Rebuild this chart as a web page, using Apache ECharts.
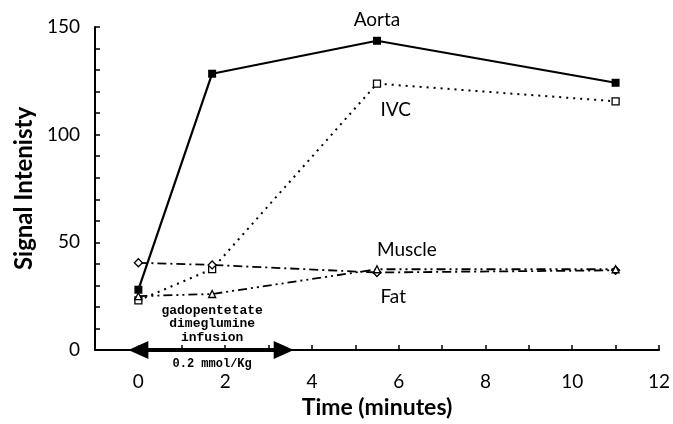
<!DOCTYPE html>
<html><head><meta charset="utf-8">
<script src="https://cdn.jsdelivr.net/npm/echarts@6/dist/echarts.min.js"></script>
<style>html,body{margin:0;padding:0;background:#fff}#c{width:673px;height:424px}</style>
</head><body><div id="c"></div>
<script>
const aortaX = [0, 1.7, 5.5, 11];
const aortaY = [28, 128.3, 143.6, 124.1];
const ivcX = [0, 1.7, 5.5, 11];
const ivcY = [23, 37.6, 123.7, 115.5];
const muscleX = [0, 1.7, 5.5, 11];
const muscleY = [40.5, 39.5, 36, 37];
const fatX = [0, 1.7, 5.5, 11];
const fatY = [25, 26, 37.5, 37.5];
const seriesNames = ['Aorta', 'IVC', 'Muscle', 'Fat'];
const infusionStart = 0, infusionEnd = 3.35;
const xTickLabels = ['0','2','4','6','8','10','12'];
const yTickLabels = ['0','50','100','150'];

const pairs = (xs, ys) => xs.map((x, i) => [x, ys[i]]);
const font = 'Lato, "Open Sans", sans-serif';
const mono = '"Liberation Mono", "DejaVu Sans Mono", monospace';
const hidden = {color: 'rgba(0,0,0,0)', borderWidth: 0};
const lbl = (coord, text, align, offset) => ({
  coord, symbol: 'circle', symbolSize: 1, itemStyle: hidden,
  label: {show: true, formatter: text, position: 'inside', align: align || 'left', offset: offset || [0, 0],
          verticalAlign: 'middle', color: '#000', fontSize: 19, fontFamily: font}
});
const chart = echarts.init(document.getElementById('c'), null, {renderer: 'canvas'});
chart.setOption({
  animation: false,
  backgroundColor: '#fff',
  grid: {left: 95, right: 11, top: 27, bottom: 74},
  xAxis: {
    type: 'value', min: -1, max: 12, interval: 1,
    name: 'Time (minutes)', nameLocation: 'middle', nameGap: 42,
    nameTextStyle: {fontSize: 23, fontWeight: 'bold', color: '#000', fontFamily: font},
    axisLine: {onZero: false, lineStyle: {color: '#000', width: 2}},
    axisTick: {inside: true, length: 5, lineStyle: {color: '#000', width: 1.5}},
    axisLabel: {margin: 22, fontSize: 19, color: '#000', fontFamily: font,
      formatter: v => xTickLabels.includes(String(v)) ? String(v) : ''},
    splitLine: {show: false}
  },
  yAxis: {
    type: 'value', min: 0, max: 150, interval: 10,
    name: 'Signal Intenisty', nameLocation: 'middle', nameGap: 50,
    nameTextStyle: {fontSize: 24, fontWeight: 'bold', color: '#000', fontFamily: font},
    axisLine: {onZero: false, lineStyle: {color: '#000', width: 2}},
    axisTick: {inside: true, length: 5, lineStyle: {color: '#000', width: 1.5}},
    axisLabel: {margin: 15, fontSize: 19, color: '#000', fontFamily: font,
      formatter: v => yTickLabels.includes(String(v)) ? String(v) : ''},
    splitLine: {show: false}
  },
  series: [
    {name: seriesNames[0], type: 'line', data: pairs(aortaX, aortaY),
     symbol: 'rect', symbolSize: 8, itemStyle: {color: '#000'},
     lineStyle: {color: '#000', width: 2.2},
     markPoint: {data: [lbl([5.5, 143.6], seriesNames[0], 'center', [0, -21])]}},
    {name: seriesNames[1], type: 'line', data: pairs(ivcX, ivcY),
     symbol: 'rect', symbolSize: 7, itemStyle: {color: '#fff', borderColor: '#000', borderWidth: 1.3},
     lineStyle: {color: '#000', width: 2, type: [2, 5]},
     markPoint: {data: [lbl([5.58, 111.5], seriesNames[1])]}},
    {name: seriesNames[2], type: 'line', data: pairs(muscleX, muscleY),
     symbol: 'diamond', symbolSize: 8, itemStyle: {color: '#fff', borderColor: '#000', borderWidth: 1.3},
     lineStyle: {color: '#000', width: 1.8, type: [9, 4, 2, 4]},
     markPoint: {data: [lbl([5.5, 46.4], seriesNames[2])]}},
    {name: seriesNames[3], type: 'line', data: pairs(fatX, fatY),
     symbol: 'triangle', symbolSize: 7, itemStyle: {color: '#fff', borderColor: '#000', borderWidth: 1.3},
     lineStyle: {color: '#000', width: 1.8, type: [9, 4, 2, 4, 2, 4]},
     markPoint: {data: [lbl([5.58, 24.5], seriesNames[3])]}},
    {name: 'infusion', type: 'line', data: [], symbol: 'none',
     markLine: {
       silent: true, symbol: ['triangle', 'triangle'], symbolSize: [18, 20],
       lineStyle: {color: '#000', width: 4, type: 'solid'}, label: {show: false},
       data: [[{coord: [infusionStart, 0]}, {coord: [infusionEnd, 0]}]]
     },
     markPoint: {data: [
       {coord: [1.7, 0], symbol: 'circle', symbolSize: 1, itemStyle: hidden,
        label: {show: true, position: 'inside', offset: [0, -26], align: 'center', verticalAlign: 'middle',
          formatter: 'gadopentetate\ndimeglumine\ninfusion', lineHeight: 13.5,
          fontFamily: mono, fontWeight: 'bold', fontSize: 13, color: '#000'}},
       {coord: [1.7, 0], symbol: 'circle', symbolSize: 1, itemStyle: hidden,
        label: {show: true, position: 'inside', offset: [0, 14], align: 'center', verticalAlign: 'middle',
          formatter: '0.2 mmol/Kg',
          fontFamily: mono, fontWeight: 'bold', fontSize: 12, color: '#000'}}
     ]}}
  ]
});
</script></body></html>
